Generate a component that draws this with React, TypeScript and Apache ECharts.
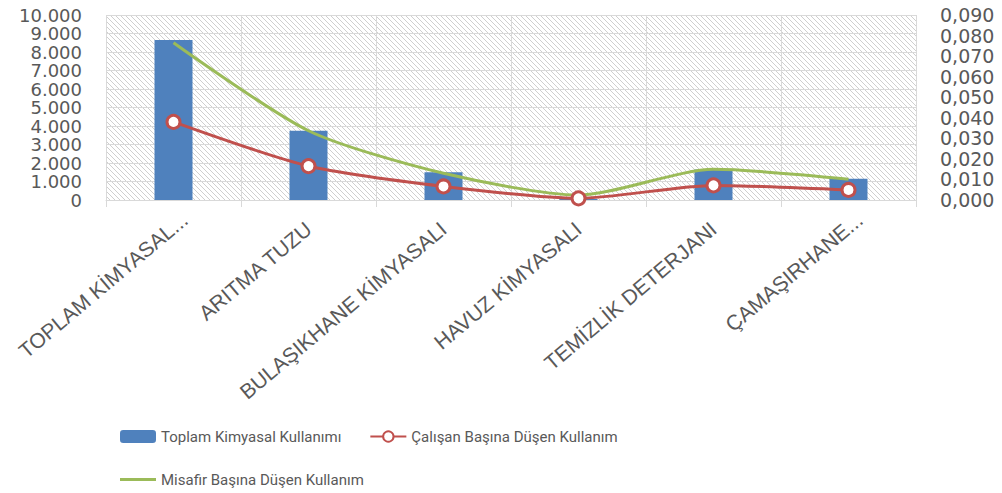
import React, { useEffect, useRef } from 'react';
import * as echarts from 'echarts';

const categories = ['TOPLAM KİMYASAL...', 'ARITMA TUZU', 'BULAŞIKHANE KİMYASALI', 'HAVUZ KİMYASALI', 'TEMİZLİK DETERJANI', 'ÇAMAŞIRHANE...'];
const totalUsage = [8650, 3750, 1500, 50, 1650, 1150];
const perEmployee = [0.038, 0.0165, 0.0066, 0.0008, 0.0071, 0.0049];
const perGuest = [0.0765, 0.0337, 0.013, 0.0024, 0.0149, 0.0101];
const seriesNames = ['Toplam Kimyasal Kullanımı', 'Çalışan Başına Düşen Kullanım', 'Misafir Başına Düşen Kullanım'];

function makeHatch() {
  const c = document.createElement('canvas');
  const s = 5;
  c.width = s;
  c.height = s;
  const ctx = c.getContext('2d')!;
  ctx.fillStyle = '#ffffff';
  ctx.fillRect(0, 0, s, s);
  ctx.strokeStyle = '#cfcfcf';
  ctx.lineWidth = 1;
  for (const k of [-s, 0, s]) {
    ctx.beginPath();
    ctx.moveTo(0, k);
    ctx.lineTo(s, s + k);
    ctx.stroke();
  }
  return c;
}

function measure(text: string, font: string) {
  const cv = document.createElement('canvas').getContext('2d')!;
  cv.font = font;
  return cv.measureText(text).width;
}

export default function App() {
  const ref = useRef<HTMLDivElement>(null);
  useEffect(() => {
    if (!ref.current) return;
    const chart = echarts.init(ref.current, null, { renderer: 'svg' });
    const hatch = makeHatch();
    const gray = '#595959';
    const numFont = 'DejaVu Sans';
    const catFont = '21px "Liberation Sans"';
    const legendText = { fontFamily: 'Roboto', fontSize: 15, color: gray };
    const catData = categories.map((c) =>
      c.endsWith('...')
        ? { value: c, textStyle: { align: 'center', padding: [0, Math.max(0, measure(c, catFont) - 29), 0, 0] } }
        : c
    );
    chart.setOption({
      animation: false,
      backgroundColor: '#ffffff',
      grid: {
        left: 106,
        right: 86,
        top: 15,
        bottom: 293,
        show: true,
        borderWidth: 0,
        backgroundColor: { image: hatch, repeat: 'repeat', imageWidth: 5, imageHeight: 5 } as any,
      },
      legend: [
        {
          data: [seriesNames[0], seriesNames[1]],
          left: 115,
          top: 424,
          itemWidth: 36,
          itemHeight: 13,
          itemGap: 28,
          textStyle: legendText,
        },
        {
          data: [{ name: seriesNames[2], icon: 'path://M0,0 L36,0 L36,3 L0,3 Z' }],
          left: 115,
          top: 467,
          itemWidth: 36,
          itemHeight: 13,
          textStyle: legendText,
        },
      ],
      xAxis: {
        type: 'category',
        data: catData,
        boundaryGap: true,
        axisLine: { show: true, lineStyle: { color: '#d9d9d9', width: 1 } },
        axisTick: { show: true, length: 7, lineStyle: { color: '#d9d9d9' } },
        splitLine: { show: true, lineStyle: { color: '#d9d9d9', width: 1 } },
        axisLabel: {
          rotate: 40,
          interval: 0,
          margin: 26,
          color: gray,
          fontFamily: 'Liberation Sans',
          fontSize: 21,
        },
      },
      yAxis: [
        {
          type: 'value',
          min: 0,
          max: 10000,
          interval: 1000,
          axisLine: { show: false },
          axisTick: { show: false },
          splitLine: { show: true, lineStyle: { color: '#d9d9d9', width: 1 } },
          axisLabel: {
            color: gray,
            fontFamily: numFont,
            fontSize: 18,
            margin: 24,
            showMinLabel: true,
            showMaxLabel: true,
            hideOverlap: false,
            formatter: (v: number) => (v === 0 ? '0' : v.toLocaleString('de-DE')),
          },
        },
        {
          type: 'value',
          min: 0,
          max: 0.09,
          interval: 0.01,
          position: 'right',
          axisLine: { show: false },
          axisTick: { show: false },
          splitLine: { show: false },
          axisLabel: {
            color: gray,
            fontFamily: numFont,
            fontSize: 19,
            margin: 24,
            showMinLabel: true,
            showMaxLabel: true,
            hideOverlap: false,
            formatter: (v: number) => v.toFixed(3).replace('.', ','),
          },
        },
      ],
      series: [
        {
          name: seriesNames[0],
          type: 'bar',
          data: totalUsage,
          barWidth: 38,
          itemStyle: { color: '#4f81bd' },
          yAxisIndex: 0,
        },
        {
          name: seriesNames[1],
          type: 'line',
          data: perEmployee,
          yAxisIndex: 1,
          smooth: 0.25,
          symbol: 'circle',
          symbolSize: 13,
          lineStyle: { color: '#c0504d', width: 3 },
          itemStyle: { color: '#ffffff', borderColor: '#c0504d', borderWidth: 3 },
          z: 3,
        },
        {
          name: seriesNames[2],
          type: 'line',
          data: perGuest,
          yAxisIndex: 1,
          smooth: 0.25,
          showSymbol: false,
          symbol: 'none',
          lineStyle: { color: '#9bbb59', width: 3 },
          itemStyle: { color: '#9bbb59' },
          z: 2,
        },
      ],
    });
    return () => chart.dispose();
  }, []);
  return (
    <div
      ref={ref}
      style={{ position: 'fixed', left: 0, top: 0, width: 1002, height: 493 }}
    />
  );
}
